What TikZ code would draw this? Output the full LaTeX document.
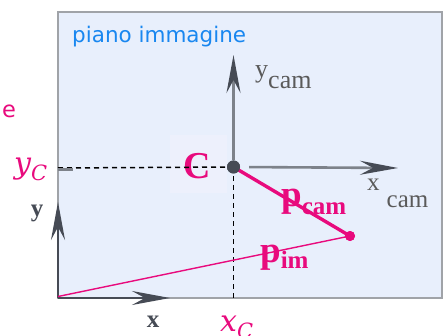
\documentclass[tikz,border=0pt]{standalone}
\usepackage{fontspec}
\setmainfont{Liberation Serif}
\newfontfamily\dvs{DejaVu Sans}
\newfontfamily\varfont{DejaVu Serif}
\usetikzlibrary{arrows.meta}
\definecolor{mag}{RGB}{232,10,125}
\definecolor{pblue}{RGB}{25,135,240}
\definecolor{planefill}{RGB}{232,239,252}
\definecolor{cboxfill}{RGB}{237,240,252}
\definecolor{axdark}{RGB}{70,75,85}
\definecolor{axgray}{RGB}{125,130,138}
\definecolor{lblgray}{RGB}{90,90,90}
\definecolor{bordergray}{RGB}{160,163,168}
\tikzset{
  axhead/.style={-{Stealth[length=38pt,width=14pt,inset=13pt,color=axdark]}},
  dashline/.style={black,line width=1.5pt,dash pattern=on 5pt off 4pt},
  camlbl/.style={text=lblgray,inner sep=0pt,anchor=base west,font=\fontsize{26}{26}\selectfont},
  boldlbl/.style={text=axdark,inner sep=0pt,font=\bfseries\fontsize{25}{25}\selectfont},
  maglbl/.style={text=mag,inner sep=0pt},
  varlbl/.style={text=mag,inner sep=0pt,font=\varfont\itshape\fontsize{30}{30}\selectfont},
}
\begin{document}
\begin{tikzpicture}[x=1pt,y=-1pt]
\useasboundingbox (0,0) rectangle (443,336);
% image plane
\fill[planefill] (58,12) rectangle (442,298);
\draw[bordergray,line width=1.6pt] (58,12) rectangle (442,298);
% labels top
\node[text=pblue,inner sep=0pt,anchor=base west,font=\dvs\fontsize{21.5}{22}\selectfont] (plane) at (72,43) {piano immagine};
\node[text=mag,inner sep=0pt,anchor=base west,font=\dvs\fontsize{22.5}{23}\selectfont] (e) at (2,118) {e};
% C label box
\node[fill=cboxfill,minimum width=57pt,minimum height=58pt,inner sep=0pt] (Cbox) at (198.5,164) {};
\node[maglbl,font=\bfseries\fontsize{38}{38}\selectfont] (Clbl) at (197,166) {C};
% named points
\node[circle,fill=axdark,minimum size=13pt,inner sep=0pt] (C) at (233.5,167) {};
\node[circle,fill=mag,minimum size=10pt,inner sep=0pt] (P) at (350,236) {};
\coordinate (O) at (58,296.5);
\coordinate (ycamtip) at (233.5,55);
\coordinate (xcamtip) at (398,168);
\coordinate (ytip) at (58,202);
\coordinate (xtip) at (170,298);
\coordinate (xcfoot) at (233.5,298);
\coordinate (ycfoot) at (58,168);
% dashed projections
\draw[dashline] (ycfoot) -- (C.center);
\draw[dashline] (C.center) -- (xcfoot);
\draw[axgray,line width=2.2pt] (58,169.5) -- (73,169.5);
% camera axes
\draw[axgray,line width=2.6pt,axhead] (C.north) -- (ycamtip);
\draw[axgray,line width=2.6pt,axhead,shorten <=9pt] (C.east) -- (xcamtip);
% image axes
\draw[axdark,line width=2.4pt,axhead] (58,298) -- (ytip);
\draw[axdark,line width=2.4pt,axhead] (58,298) -- (xtip);
% vectors
\draw[mag,line width=3.4pt] (C.center) -- (P.center);
\draw[mag,line width=1.4pt] (O) -- (P.center);
\node[circle,fill=axdark,minimum size=13pt,inner sep=0pt] at (C) {};
\node[circle,fill=mag,minimum size=10pt,inner sep=0pt] at (P) {};
% labels
\node[camlbl] (ycaml) at (255,78) {y\raisebox{-11pt}{cam}};
\node[camlbl,font=\fontsize{25}{25}\selectfont] (xcaml) at (367,191) {x\hspace{7pt}\raisebox{-17pt}{cam}};
\node[maglbl,anchor=base west,font=\bfseries\fontsize{37}{37}\selectfont] (pcam) at (281,207) {p\raisebox{-8pt}{\fontsize{25}{25}\selectfont cam}};
\node[maglbl,anchor=base west,font=\bfseries\fontsize{37}{37}\selectfont] (pim) at (260,262) {p\raisebox{-6pt}{\fontsize{25}{25}\selectfont im}};
\node[boldlbl] (ylbl) at (37,213) {y};
\node[boldlbl] (xlbl) at (153,322) {x};
\node[varlbl,anchor=base west] (yC) at (14,174) {y\raisebox{-7pt}{\fontsize{21}{21}\selectfont C}};
\node[varlbl,anchor=base west] (xC) at (220,331) {x\raisebox{-7pt}{\fontsize{21}{21}\selectfont C}};
\end{tikzpicture}
\end{document}
